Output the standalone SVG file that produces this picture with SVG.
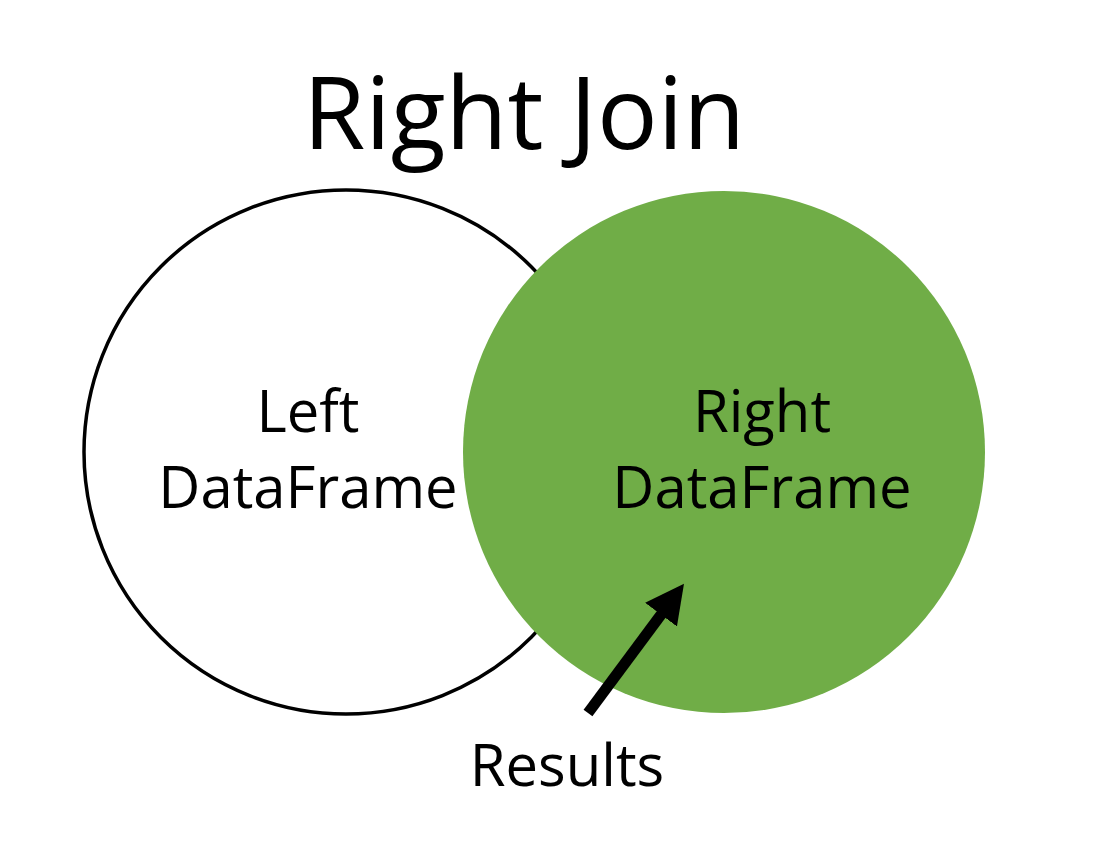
<svg xmlns="http://www.w3.org/2000/svg" width="1096" height="856" viewBox="0 0 1096 856">
<style>
text{font-family:"Open Sans","Liberation Sans",sans-serif;fill:#000;text-anchor:middle}
.lbl{font-size:58px}
</style>
<defs>
<marker id="ah" markerWidth="3.5" markerHeight="3.6" refX="0.3" refY="1.8" orient="auto" markerUnits="strokeWidth" viewBox="0 0 3.5 3.6">
<path d="M0,0 L3.5,1.8 L0,3.6 Z" fill="#000"/>
</marker>
</defs>
<rect width="1096" height="856" fill="#fff"/>
<g id="title"><text x="524" y="149" style="font-size:101px">Right Join</text></g>
<g id="left">
<circle cx="346" cy="452" r="262" fill="#fff" stroke="#000" stroke-width="3.5"/>
<text class="lbl" x="308" y="432">Left</text>
<text class="lbl" x="308" y="508">DataFrame</text>
</g>
<g id="right">
<circle cx="724" cy="452" r="261" fill="#70AD47"/>
<text class="lbl" x="762" y="432">Right</text>
<text class="lbl" x="762" y="508">DataFrame</text>
</g>
<g id="connectors">
<line x1="588" y1="713" x2="663" y2="612" stroke="#000" stroke-width="11" marker-end="url(#ah)"/>
</g>
<g id="results"><text class="lbl" x="567" y="786">Results</text></g>
</svg>
